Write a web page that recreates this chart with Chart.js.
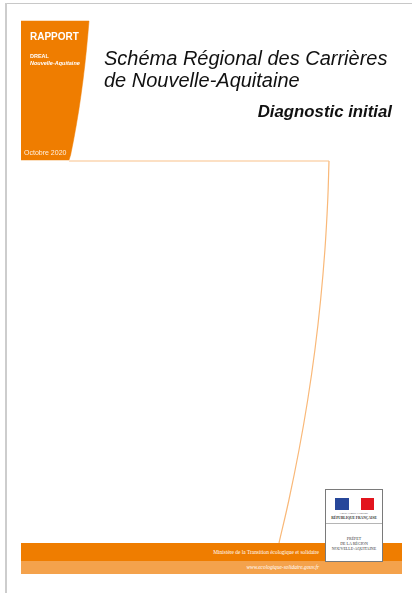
<!DOCTYPE html>
<html lang="fr">
<head>
<meta charset="utf-8">
<title>Schéma Régional des Carrières de Nouvelle-Aquitaine</title>
<script src="https://cdn.jsdelivr.net/npm/chart.js@4.4.1/dist/chart.umd.min.js"></script>
<style>
  body { margin: 0; background: #fff; font-family: "Liberation Sans", Arial, sans-serif; }
  #page { position: relative; width: 412px; height: 593px; overflow: hidden; }
  #cover { position: absolute; left: 0; top: 0; }
  .abs { position: absolute; white-space: nowrap; }
  .edgeTop { left: 5px; top: 3px; width: 407px; height: 1px; background: #c8c8c8; }
  .edgeLeft { left: 5px; top: 3px; width: 2px; height: 590px; background: #cdcdcd; }
  .titre { left: 104px; top: 47px; font-style: italic; font-size: 20px; line-height: 22px; color: #111; }
  .sous { right: 20px; top: 102px; font-style: italic; font-weight: bold; font-size: 16.8px; line-height: 20px; color: #111; }
  .rapport { left: 30px; top: 31px; font-weight: bold; font-size: 10px; line-height: 12px; color: #fff; }
  .dreal { left: 30px; font-weight: bold; font-size: 5.5px; line-height: 7px; color: #fff; }
  .date { left: 24px; top: 148px; font-size: 7px; line-height: 9px; color: #fff0e0; }
  .band1 { left: 21px; top: 543px; width: 381px; height: 18px; background: #ef7d00; }
  .band2 { left: 21px; top: 561px; width: 381px; height: 13px; background: #f4a24c; }
  .foot { right: 93px; font-family: "Liberation Serif", serif; font-size: 5.4px; line-height: 6px; color: #fff; }
  .logo { left: 325px; top: 489px; width: 56px; height: 71px; border: 1px solid #7a7a7a; background: #fff; }
  .sep { left: 0; top: 33px; width: 56px; height: 1px; background: #b5b5b5; }
  .logotxt { left: 0; width: 56px; text-align: center; font-family: "Liberation Serif", serif; color: #333; }
</style>
</head>
<body>
<div id="page">
  <canvas id="cover" width="412" height="593"></canvas>

  <div class="abs edgeTop"></div>
  <div class="abs edgeLeft"></div>

  <div class="abs rapport">RAPPORT</div>
  <div class="abs dreal" style="top:53px">DREAL</div>
  <div class="abs dreal" style="top:60px;font-style:italic">Nouvelle-Aquitaine</div>
  <div class="abs date">Octobre 2020</div>

  <div class="abs titre">Schéma Régional des Carrières<br>de Nouvelle-Aquitaine</div>
  <div class="abs sous">Diagnostic initial</div>

  <div class="abs band1"></div>
  <div class="abs band2"></div>
  <div class="abs foot" style="top:549px">Ministère de la Transition écologique et solidaire</div>
  <div class="abs foot" style="top:564px;font-style:italic">www.ecologique-solidaire.gouv.fr</div>

  <div class="abs logo">
    <div class="abs" style="left:9px;top:8px;width:14px;height:12px;background:#27479a"></div>
    <div class="abs" style="left:23px;top:8px;width:12px;height:12px;background:#fff"></div>
    <div class="abs" style="left:35px;top:8px;width:13px;height:12px;background:#e2141d"></div>
    <div class="abs logotxt" style="top:22px;font-size:2.5px;line-height:3px">Liberté • Égalité • Fraternité</div>
    <div class="abs logotxt" style="top:26px;font-size:3.6px;line-height:4px;font-weight:bold">RÉPUBLIQUE FRANÇAISE</div>
    <div class="abs sep"></div>
    <div class="abs logotxt" style="top:46px;font-size:4px;line-height:5px">PRÉFET<br>DE LA RÉGION<br>NOUVELLE-AQUITAINE</div>
  </div>
</div>

<script>
// bandeau orange à gauche (contour, en pixels de page)
const bandeauX = [21, 89, 87.8, 86.4, 84.8, 83, 81, 78.8, 76.3, 73.6, 70.6, 69, 21];
const bandeauY = [21, 21, 35, 50, 65, 80, 95, 110, 125, 140, 155, 160, 160];

// filet orange : trait horizontal puis courbe vers le bas de page
const filetHX = [69, 329];
const filetHY = [161, 161];
const filetX = [329, 327.7, 324.9, 320.6, 314.9, 307.7, 299.0, 288.9, 279];
const filetY = [161, 201, 250, 300, 350, 400, 450, 500, 543];

const toPoints = (xs, ys) => xs.map((x, i) => ({ x: x, y: ys[i] }));

const ctx = document.getElementById('cover').getContext('2d');

const cover = new Chart(ctx, {
    type: 'scatter',
    data: {
        datasets: [
            {
                data: toPoints(bandeauX, bandeauY),
                showLine: true,
                fill: 'shape',
                backgroundColor: '#ef7d00',
                borderColor: '#ef7d00',
                borderWidth: 0.5,
                tension: 0,
                pointRadius: 0
            },
            {
                data: toPoints(filetHX, filetHY),
                showLine: true,
                borderColor: '#f9c18a',
                borderWidth: 1.2,
                pointRadius: 0
            },
            {
                data: toPoints(filetX, filetY),
                showLine: true,
                borderColor: '#f9b878',
                borderWidth: 1.2,
                tension: 0.4,
                pointRadius: 0
            }
        ]
    },
    options: {
        responsive: false,
        animation: false,
        devicePixelRatio: 1,
        layout: { padding: 0 },
        scales: {
            x: { type: 'linear', min: 0, max: 412, display: false },
            y: { type: 'linear', min: 0, max: 593, reverse: true, display: false }
        },
        plugins: {
            legend: { display: false },
            tooltip: { enabled: false }
        }
    }
});
</script>
</body>
</html>
